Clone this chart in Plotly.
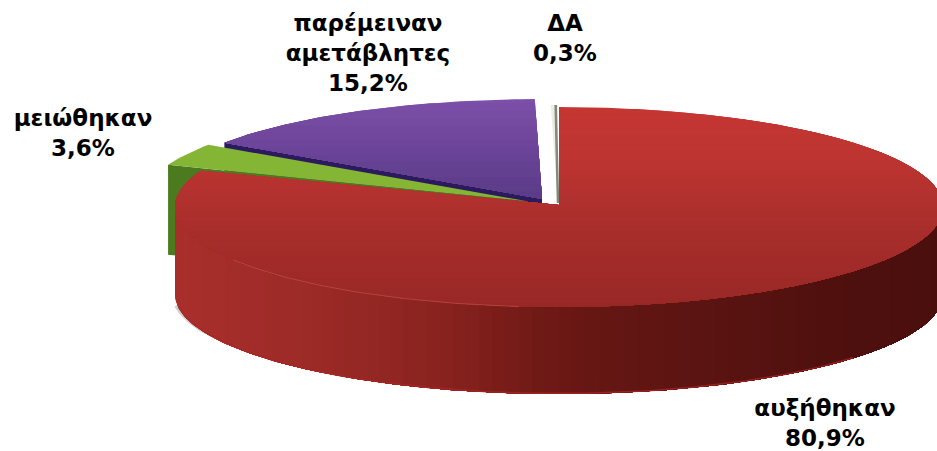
import math
import plotly.graph_objects as go

categories = ["αυξήθηκαν", "μειώθηκαν", "παρέμειναν<br>αμετάβλητες", "ΔΑ"]
values = [80.9, 3.6, 15.2, 0.3]
value_labels = ["80,9%", "3,6%", "15,2%", "0,3%"]
label_x = [825, 83, 368, 565]
label_y = [425, 135, 55, 40]

# projection of the tilted disc onto the pixel-sized axes
CX, CY, RX, RY, DEPTH = 559, 207, 384, 100, 87
shift = [(0, 0), (-33, -6), (-17, -8), (-1, -2)]

starts, a = [], 0.0
for v in values:
    starts.append(a)
    a += v / sum(values) * 360


def pt(deg, dx=0, dy=0, dz=0):
    r = math.radians(deg)
    return (CX + dx + RX * math.sin(r), CY + dy - RY * math.cos(r) + dz)


def arc(a0, a1, dx=0, dy=0, dz=0, n=None):
    n = n or max(2, int(abs(a1 - a0)))
    return [pt(a0 + (a1 - a0) * i / n, dx, dy, dz) for i in range(n + 1)]


def hexmix(stops, t):
    t = max(0, min(1, t))
    for (t0, c0), (t1, c1) in zip(stops, stops[1:]):
        if t <= t1:
            f = (t - t0) / (t1 - t0) if t1 > t0 else 0
            rgb = [round(int(c0[i:i + 2], 16) * (1 - f) + int(c1[i:i + 2], 16) * f) for i in (1, 3, 5)]
            return "rgb(%d,%d,%d)" % tuple(rgb)
    return stops[-1][1]


def clip_below(poly, y0):
    out = []
    for (x1, y1), (x2, y2) in zip(poly, poly[1:] + poly[:1]):
        if y1 >= y0:
            out.append((x1, y1))
        if (y1 >= y0) != (y2 >= y0):
            f = (y0 - y1) / (y2 - y1)
            out.append((x1 + f * (x2 - x1), y0))
    return out


fig = go.Figure()


def fill(poly, color, line=None, lw=0):
    fig.add_trace(go.Scatter(
        x=[p[0] for p in poly] + [poly[0][0]], y=[p[1] for p in poly] + [poly[0][1]],
        mode="lines", fill="toself", fillcolor=color,
        line=dict(color=line or color, width=lw), hoverinfo="skip", showlegend=False))


def stroke(points, color, width):
    fig.add_trace(go.Scatter(
        x=[p[0] for p in points], y=[p[1] for p in points], mode="lines",
        line=dict(color=color, width=width), hoverinfo="skip", showlegend=False))


def graded(poly, stops, y0, y1, bands):
    # painter's order: each band covers everything beneath it, so no seams appear
    for i in range(bands):
        y = y0 + (y1 - y0) * i / bands
        part = clip_below(poly, y)
        if len(part) > 2:
            fill(part, hexmix(stops, i / (bands - 1)))


# purple slice
s, e = starts[2], starts[3]
dx, dy = shift[2]
tip = (CX + dx, CY + dy)
p0 = pt(s, dx, dy)
fill([p0, tip, (tip[0], tip[1] + DEPTH), (p0[0], p0[1] + DEPTH)], "#2b1a5e")
graded(arc(s, e, dx, dy) + [tip], [(0, "#7c4fa8"), (0.5, "#6c4499"), (1, "#5b3c88")], 96, 199, 14)

# green slice
s, e = starts[1], starts[2]
dx, dy = shift[1]
tip = (CX + dx, CY + dy)
p0 = pt(s, dx, dy)
fill([p0, tip, (tip[0], tip[1] + DEPTH), (p0[0], p0[1] + DEPTH + 3)], "#4c7a1f")
fill(arc(s, e, dx, dy) + [tip], "#84b535")

# sliver
s, e = starts[3], 360
dx, dy = shift[3]
tip = (CX + dx, CY + dy)
fill(arc(s, e, dx, dy) + [tip], "#efece6")
stroke([pt(e - 0.35, dx, dy), (tip[0], tip[1] - 2)], "#7f8a7a", 2.5)

# soft shadow at the left foot of the disc
stroke(arc(262, 246, -3, 0, DEPTH - 2), "rgba(120,120,120,0.35)", 3)

# red wall, from the left extreme round the front to the right edge
wall_stops = [(0, "#a92f2b"), (0.17, "#9c2a27"), (0.33, "#8a231f"), (0.46, "#711a16"),
              (0.55, "#641613"), (0.7, "#591411"), (0.85, "#4f100e"), (1, "#4a0f0d")]
N = 90
for i in range(N):
    a0 = 270 - 180 * i / N
    x0 = pt(a0)[0]
    poly = arc(a0, 90) + [(p[0], p[1] + DEPTH) for p in arc(90, a0)]
    fill(poly, hexmix(wall_stops, (x0 - (CX - RX)) / (2 * RX)))
stroke(arc(262, 130, 0, 0, DEPTH - 0.5), "rgba(172,38,36,0.75)", 1.5)

# red top face
s = starts[0]
e = starts[1]
red = arc(s, e) + [(CX, CY - 2)]
graded(red, [(0, "#c63633"), (0.3, "#bb3431"), (0.6, "#a92e2b"), (1, "#982826")], 104, 308, 40)

# pale seam where the top face meets the left wall
stroke(arc(238, 186), "rgba(214,110,96,0.4)", 1)

# labels
for name, pct, x, y in zip(categories, value_labels, label_x, label_y):
    fig.add_trace(go.Scatter(
        x=[x], y=[y], mode="text", text=[name + "<br>" + pct], textposition="middle center",
        textfont=dict(family="DejaVu Sans", size=23, color="#000000", weight="bold"),
        hoverinfo="skip", showlegend=False, cliponaxis=False))

fig.update_layout(
    width=937, height=451, margin=dict(l=0, r=0, t=0, b=0),
    paper_bgcolor="white", plot_bgcolor="white",
    xaxis=dict(range=[0, 937], visible=False, fixedrange=True),
    yaxis=dict(range=[451, 0], visible=False, fixedrange=True),
)
fig.write_html("out.html", config={"displayModeBar": False},
               post_script="document.body.style.margin='0';document.body.style.overflow='hidden';")
